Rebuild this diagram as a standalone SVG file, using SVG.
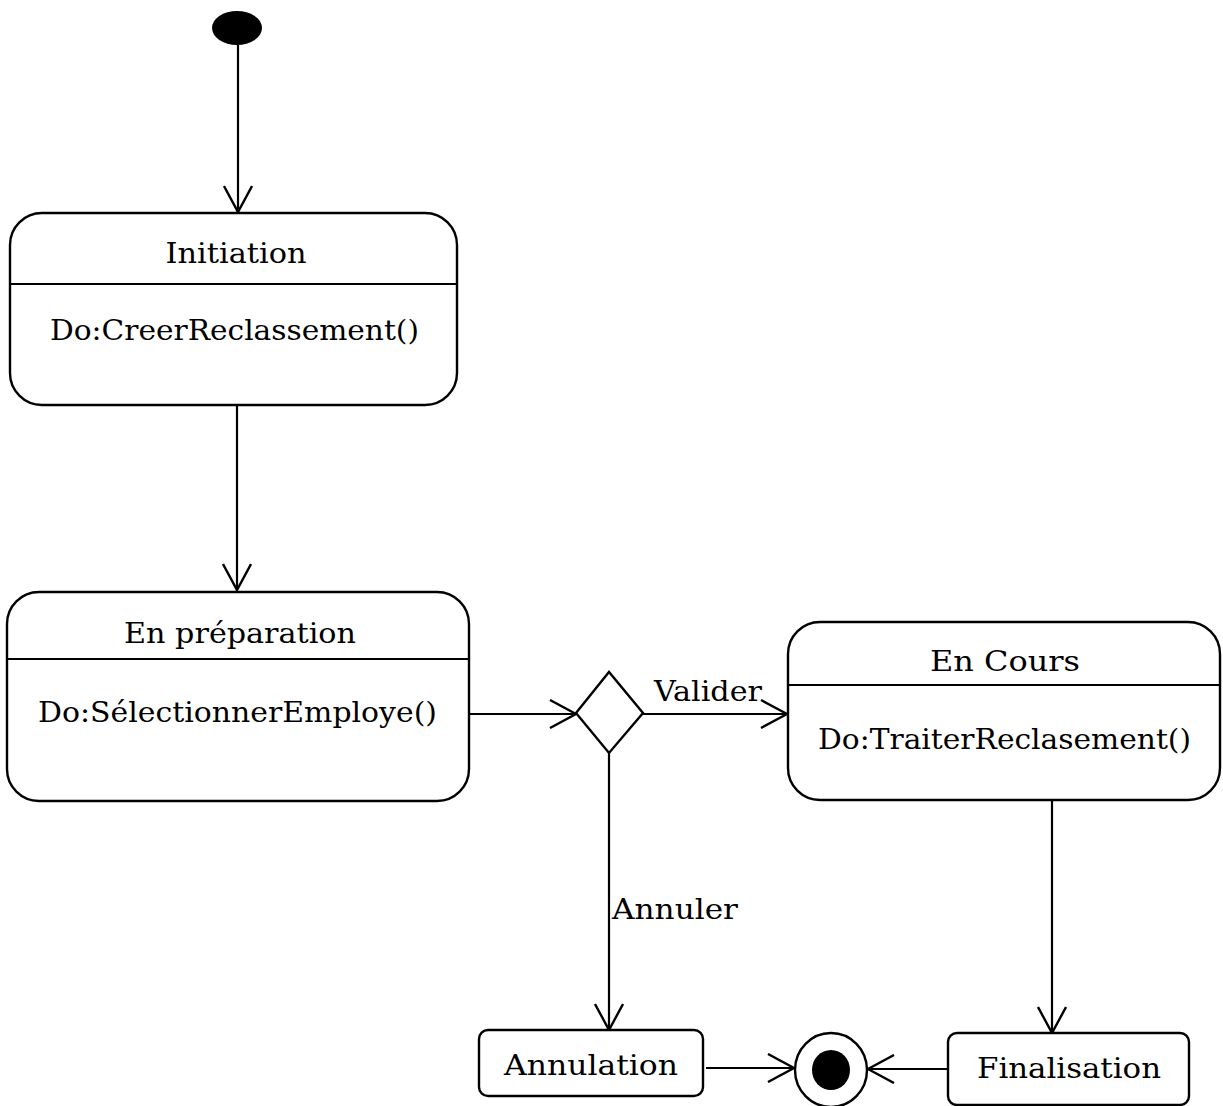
<svg xmlns="http://www.w3.org/2000/svg" width="1223" height="1106" viewBox="0 0 1223 1106">
  <defs>
    <marker id="open" viewBox="0 0 30 30" refX="28" refY="15" markerWidth="30" markerHeight="30" markerUnits="userSpaceOnUse" orient="auto">
      <path d="M2,1 L28,15 L2,29" fill="none" stroke="#000" stroke-width="2.4"/>
    </marker>
  </defs>
  <style>
    .state { fill: #fff; stroke: #000; stroke-width: 2.4; }
    .div { stroke: #000; stroke-width: 2.2; }
    .edge { fill: none; stroke: #000; stroke-width: 2.2; marker-end: url(#open); }
    text { font-family: "DejaVu Serif", "Liberation Serif", serif; font-size: 28px; fill: #000; }
  </style>
  <rect width="1223" height="1106" fill="#fff"/>

  <g id="connectors">
    <line class="edge" x1="238" y1="45" x2="238" y2="212"/>
    <line class="edge" x1="237" y1="406" x2="237" y2="590"/>
    <line class="edge" x1="462" y1="714" x2="576" y2="714"/>
    <line class="edge" x1="643" y1="714" x2="787" y2="714"/>
    <line class="edge" x1="609" y1="753" x2="609" y2="1030"/>
    <line class="edge" x1="1052" y1="800" x2="1052" y2="1033"/>
    <line class="edge" x1="706" y1="1068" x2="794" y2="1068"/>
    <line class="edge" x1="948" y1="1069" x2="868" y2="1069"/>
    <text x="654" y="701" textLength="108" lengthAdjust="spacingAndGlyphs">Valider</text>
    <text x="612" y="919" textLength="126" lengthAdjust="spacingAndGlyphs">Annuler</text>
  </g>

  <g id="start">
    <ellipse cx="237" cy="28" rx="25" ry="17" fill="#000"/>
  </g>

  <g id="initiation">
    <rect class="state" x="10" y="213" width="447" height="192" rx="32" ry="32"/>
    <line class="div" x1="10" y1="284" x2="457" y2="284"/>
    <text x="236" y="263" text-anchor="middle" textLength="141" lengthAdjust="spacingAndGlyphs">Initiation</text>
    <text x="50" y="340" textLength="369" lengthAdjust="spacingAndGlyphs">Do:CreerReclassement()</text>
  </g>

  <g id="preparation">
    <rect class="state" x="7" y="592" width="462" height="209" rx="32" ry="32"/>
    <line class="div" x1="7" y1="659" x2="469" y2="659"/>
    <text x="240" y="643" text-anchor="middle" textLength="232" lengthAdjust="spacingAndGlyphs">En préparation</text>
    <text x="38" y="722" textLength="399" lengthAdjust="spacingAndGlyphs">Do:SélectionnerEmploye()</text>
  </g>

  <g id="decision">
    <polygon points="576,713 609,672 643,713 609,753" fill="#fff" stroke="#000" stroke-width="2.4"/>
  </g>

  <g id="encours">
    <rect class="state" x="788" y="622" width="432" height="178" rx="32" ry="32"/>
    <line class="div" x1="788" y1="685" x2="1220" y2="685"/>
    <text x="1005" y="671" text-anchor="middle" textLength="150" lengthAdjust="spacingAndGlyphs">En Cours</text>
    <text x="818" y="749" textLength="373" lengthAdjust="spacingAndGlyphs">Do:TraiterReclasement()</text>
  </g>

  <g id="annulation">
    <rect class="state" x="479" y="1030" width="224" height="66" rx="9" ry="9"/>
    <text x="591" y="1075" text-anchor="middle" textLength="174" lengthAdjust="spacingAndGlyphs">Annulation</text>
  </g>

  <g id="end">
    <ellipse cx="831" cy="1070" rx="36" ry="37" fill="#fff" stroke="#000" stroke-width="2.4"/>
    <ellipse cx="831" cy="1070" rx="19" ry="20" fill="#000"/>
  </g>

  <g id="finalisation">
    <rect class="state" x="948" y="1033" width="241" height="72" rx="9" ry="9"/>
    <text x="1069" y="1078" text-anchor="middle" textLength="184" lengthAdjust="spacingAndGlyphs">Finalisation</text>
  </g>
</svg>
